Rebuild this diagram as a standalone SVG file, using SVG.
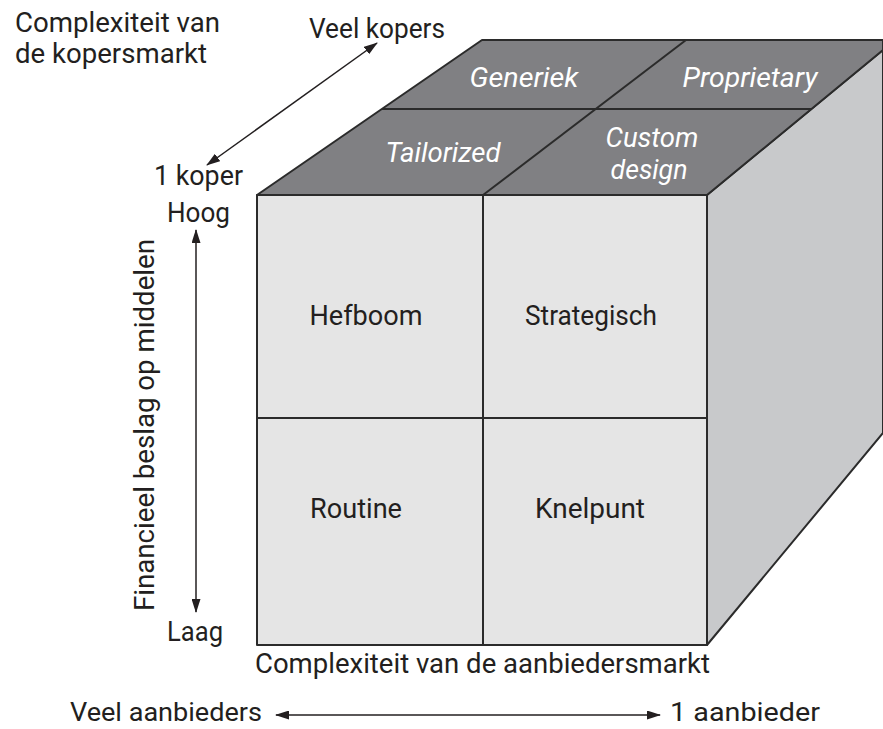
<svg xmlns="http://www.w3.org/2000/svg" width="883" height="729" viewBox="0 0 883 729">
<style>
.t{font-family:Roboto,"Liberation Sans",sans-serif;fill:#231f20;font-size:27px}
.k{font-family:Roboto,"Liberation Sans",sans-serif;fill:#231f20;font-size:28px;text-anchor:middle}
.c{font-family:Roboto,"Liberation Sans",sans-serif;fill:#231f20;font-size:27px}
.b{font-family:Roboto,"Liberation Sans",sans-serif;fill:#231f20;font-size:25px}
.w{font-family:Roboto,"Liberation Sans",sans-serif;fill:#fff;font-size:27px;font-style:italic;text-anchor:middle}
.e{stroke:#2b2b2b;stroke-width:2;stroke-linejoin:round}
.ln{stroke:#231f20;stroke-width:1.5;fill:none}
</style>
<defs>
<marker id="ah" viewBox="0 0 14 9" refX="13" refY="4.5" markerWidth="14" markerHeight="9" markerUnits="userSpaceOnUse" orient="auto-start-reverse">
<path d="M0,0 L14,4.5 L0,9 Z" fill="#231f20"/>
</marker>
</defs>
<rect width="883" height="729" fill="#fff"/>
<g id="cube">
<polygon id="right-face" class="e" points="707,195 883,50 883,433 707,645" fill="#c8c9cb"/>
<polygon id="top-face" class="e" points="257,195 482,40 883,40 883,50 707,195" fill="#808083"/>
<line class="e" x1="382" y1="109" x2="811" y2="109"/>
<line class="e" x1="483" y1="195" x2="686" y2="40"/>
<rect id="front-face" class="e" x="257" y="195" width="450" height="450" fill="#e5e5e5"/>
<line class="e" x1="483" y1="195" x2="483" y2="645"/>
<line class="e" x1="257" y1="418" x2="707" y2="418"/>
</g>
<g id="top-labels">
<text class="w" x="524" y="87" textLength="109" lengthAdjust="spacingAndGlyphs">Generiek</text>
<text class="w" x="750" y="87" textLength="135" lengthAdjust="spacingAndGlyphs">Proprietary</text>
<text class="w" x="443" y="162" textLength="115" lengthAdjust="spacingAndGlyphs">Tailorized</text>
<text class="w" x="652" y="147" textLength="93" lengthAdjust="spacingAndGlyphs">Custom</text>
<text class="w" x="649" y="179" textLength="77" lengthAdjust="spacingAndGlyphs">design</text>
</g>
<g id="cells">
<g id="hefboom"><text class="k" x="366" y="325" textLength="113" lengthAdjust="spacingAndGlyphs">Hefboom</text></g>
<g id="strategisch"><text class="k" x="591" y="325" textLength="132" lengthAdjust="spacingAndGlyphs">Strategisch</text></g>
<g id="routine"><text class="k" x="356" y="518" textLength="92" lengthAdjust="spacingAndGlyphs">Routine</text></g>
<g id="knelpunt"><text class="k" x="590" y="518" textLength="110" lengthAdjust="spacingAndGlyphs">Knelpunt</text></g>
</g>
<g id="connectors">
<line class="ln" x1="207" y1="165" x2="377" y2="43" marker-start="url(#ah)" marker-end="url(#ah)"/>
<line class="ln" x1="196" y1="230" x2="196" y2="612" marker-start="url(#ah)" marker-end="url(#ah)"/>
<line class="ln" x1="276" y1="715" x2="660" y2="715" marker-start="url(#ah)" marker-end="url(#ah)"/>
</g>
<g id="axis-labels">
<text class="t" x="15" y="32" textLength="205" lengthAdjust="spacingAndGlyphs">Complexiteit van</text>
<text class="t" x="15" y="63" textLength="192" lengthAdjust="spacingAndGlyphs">de kopersmarkt</text>
<text class="t" x="309" y="38" textLength="136" lengthAdjust="spacingAndGlyphs">Veel kopers</text>
<text class="t" x="154" y="185" textLength="89" lengthAdjust="spacingAndGlyphs">1 koper</text>
<text class="t" x="167" y="222" textLength="63" lengthAdjust="spacingAndGlyphs">Hoog</text>
<text class="c" x="167" y="641" textLength="56" lengthAdjust="spacingAndGlyphs">Laag</text>
<text class="c" transform="translate(154,425) rotate(-90)" text-anchor="middle" textLength="372" lengthAdjust="spacingAndGlyphs">Financieel beslag op middelen</text>
<text class="c" x="255" y="673" textLength="455" lengthAdjust="spacingAndGlyphs">Complexiteit van de aanbiedersmarkt</text>
<text class="b" x="70" y="721" textLength="192" lengthAdjust="spacingAndGlyphs">Veel aanbieders</text>
<text class="b" x="670" y="721" textLength="150" lengthAdjust="spacingAndGlyphs">1 aanbieder</text>
</g>
</svg>
